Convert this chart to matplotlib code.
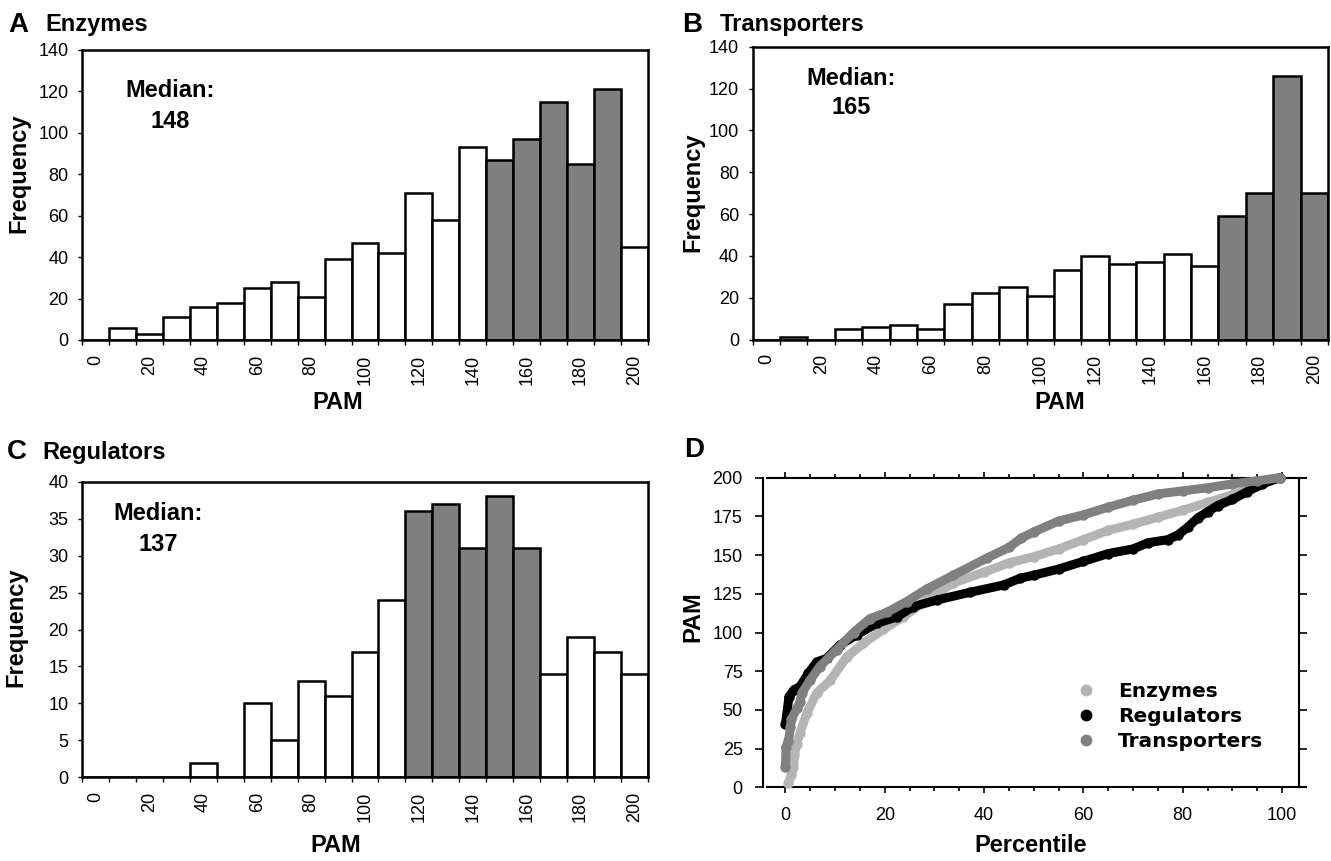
import numpy as np
import matplotlib.pyplot as plt
from matplotlib.lines import Line2D
from matplotlib.ticker import MultipleLocator

plt.rcParams['font.family'] = ['Liberation Sans', 'DejaVu Sans']

W, H = 1331, 861

# histogram data: PAM categories (bin labels) and counts
pam_bins = list(range(0, 201, 10))
enzymes_counts = [0, 6, 3, 11, 16, 18, 25, 28, 21, 39, 47, 42, 71, 58, 93, 87, 97, 115, 85, 121, 45]
transporters_counts = [0, 1, 0, 5, 6, 7, 5, 17, 22, 25, 21, 33, 40, 36, 37, 41, 35, 59, 70, 126, 70]
regulators_counts = [0, 0, 0, 0, 2, 0, 10, 5, 13, 11, 17, 24, 36, 37, 31, 38, 31, 14, 19, 17, 14]
enzymes_band = (150, 190)
transporters_band = (170, 200)
regulators_band = (120, 160)
enzymes_median = 148
transporters_median = 165
regulators_median = 137

# percentile curves (panel D)
enz_pct = [0.6, 1.2, 1.6, 1.8, 2.3, 2.9, 4.3, 6.3, 9, 12.3, 15.7, 19.7, 23.7, 28.4, 33.8, 40,
           45, 50, 55, 60, 65, 70, 75, 80, 85, 90, 95, 99.5]
enz_pam = [3, 8, 13, 21, 28, 35, 48, 61, 69, 84, 93, 102, 110, 121, 132, 139,
           145, 149, 154, 160, 166, 170, 174.5, 179, 184, 189, 194.5, 200]
reg_pct = [0, 0.7, 1.7, 2.9, 4.6, 6.3, 8.3, 11, 14.3, 18.4, 22.4, 25.7, 30.5, 37.2, 43.9, 47.2,
           50, 55, 60, 65, 70, 73, 77, 79, 81, 83, 85, 87, 90, 93, 96, 99.5]
reg_pam = [41, 58.5, 63, 65, 73.6, 81, 83.3, 92, 98.4, 106, 110, 116.7, 121, 126, 130.7, 135,
           137, 141, 146, 151, 154, 158, 160, 163, 168, 174, 178, 182, 186, 191, 196, 200]
tra_pct = [0, 0.1, 0.6, 1, 1.2, 2.3, 2.9, 3.3, 4.9, 6.9, 10.3, 13.7, 17, 20.4, 24.4, 28.4, 33.8,
           40.5, 45, 47.5, 50, 55, 60, 65, 70, 75, 80, 85, 90, 95, 99.5]
tra_pam = [13, 26, 30, 39, 44, 51, 55, 61, 69, 78, 89, 100, 109, 113, 120, 128, 137,
           148, 155, 161, 165, 172, 176, 181, 185.5, 189.5, 191.5, 193.5, 196, 198, 200]

fig = plt.figure(figsize=(W / 100, H / 100), dpi=100)


def px_rect(left, top, right, bottom):
    return [left / W, 1 - bottom / H, (right - left) / W, (bottom - top) / H]


def fig_xy(x, y):
    return x / W, 1 - y / H


def hist_panel(rect, counts, band, ymax, ystep, letter, title, median,
               letter_x, title_x, base_y, med_xy, ylab_xy, xlab_xy):
    ax = fig.add_axes(px_rect(*rect))
    cols = ['#7f7f7f' if band[0] <= b <= band[1] else 'white' for b in pam_bins]
    x = np.arange(len(pam_bins))
    ax.bar(x, counts, width=1, align='edge', color=cols, edgecolor='black', linewidth=1.8)
    ax.set_xlim(0, len(pam_bins))
    ax.set_ylim(0, ymax)
    for s in ax.spines.values():
        s.set_linewidth(1.8)
    ax.set_xticks(np.arange(len(pam_bins) + 1))
    ax.set_xticklabels([])
    ax.set_xticks(x[::2] + 0.5, minor=True)
    ax.set_xticklabels([str(b) for b in pam_bins[::2]], minor=True, rotation=90,
                       va='top', ha='center')
    ax.tick_params(axis='x', which='major', length=3.5, width=1.0, direction='out')
    ax.tick_params(axis='x', which='minor', length=0, pad=10.5, labelsize=13)
    ax.set_yticks(np.arange(0, ymax + 1, ystep))
    ax.tick_params(axis='y', length=3.2, width=1.0, pad=6.5, labelsize=13)
    ax.set_ylabel('Frequency', fontsize=17, fontweight='bold', va='center')
    ax.yaxis.set_label_coords(*fig_xy(*ylab_xy), transform=fig.transFigure)
    ax.set_xlabel('PAM', fontsize=17, fontweight='bold', va='center')
    ax.xaxis.set_label_coords(*fig_xy(*xlab_xy), transform=fig.transFigure)
    ax.text(med_xy[0], med_xy[1], 'Median:', transform=ax.transAxes, ha='center',
            va='center', fontsize=17, fontweight='bold')
    ax.text(med_xy[0], med_xy[2], str(median), transform=ax.transAxes, ha='center',
            va='center', fontsize=17, fontweight='bold')
    fig.text(*fig_xy(letter_x, base_y), letter, fontsize=20, fontweight='bold', va='baseline')
    fig.text(*fig_xy(title_x, base_y), title, fontsize=17, fontweight='bold', va='baseline')
    return ax


hist_panel((82, 50, 648, 340), enzymes_counts, enzymes_band, 140, 20, 'A', 'Enzymes',
           enzymes_median, 8, 45, 31.5, (0.155, 0.862, 0.752), (19, 173), (338, 403))
hist_panel((752.7, 46.7, 1328, 339.5), transporters_counts, transporters_band, 140, 20,
           'B', 'Transporters', transporters_median, 682, 720, 31.5, (0.171, 0.893, 0.791),
           (693, 192), (1060, 403))
hist_panel((82, 481.7, 648, 777.3), regulators_counts, regulators_band, 40, 5, 'C',
           'Regulators', regulators_median, 7, 42, 459.5, (0.134, 0.894, 0.786),
           (16, 627), (336, 845))

# panel D: percentile curves
ax = fig.add_axes(px_rect(763, 477.7, 1298.5, 787.3))
series = [('Enzymes', enz_pct, enz_pam, '#b4b4b4'),
          ('Regulators', reg_pct, reg_pam, 'black'),
          ('Transporters', tra_pct, tra_pam, '#808080')]
for name, p, v, c in series:
    ax.plot(p, v, '-o', color=c, lw=6.5, ms=7.5, mew=0, solid_capstyle='round',
            solid_joinstyle='round', clip_on=False, zorder=3)
ax.set_xlim(-4.53, 103.3)
ax.set_ylim(0, 200)
ax.set_xticks(range(0, 101, 20))
ax.xaxis.set_minor_locator(MultipleLocator(5))
ax.set_yticks(range(0, 201, 25))
for s in ax.spines.values():
    s.set_linewidth(1.5)
ax.spines['top'].set_bounds(-3.7, 104.8)
ax.spines['bottom'].set_bounds(-3.7, 104.8)
ax.tick_params(axis='x', which='major', top=True, length=4.5, width=1.2, pad=10,
               labelsize=13)
ax.tick_params(axis='x', which='minor', top=True, length=2.8, width=1.2)
ax.tick_params(axis='y', right=True, length=6, width=1.2, pad=8.5, labelsize=13)
ax.set_ylabel('PAM', fontsize=17, fontweight='bold', va='center')
ax.yaxis.set_label_coords(*fig_xy(693, 617), transform=fig.transFigure)
ax.set_xlabel('Percentile', fontsize=17, fontweight='bold', va='center')
ax.xaxis.set_label_coords(*fig_xy(1031, 845), transform=fig.transFigure)
fig.text(*fig_xy(684, 457), 'D', fontsize=20, fontweight='bold', va='baseline')

handles = [Line2D([], [], marker='o', ls='none', color=c, ms=8.5, mew=0) for _, _, _, c in series]
ax.legend(handles, [s[0] for s in series], loc='upper left',
          bbox_to_anchor=fig_xy(1066, 672), bbox_transform=fig.transFigure,
          frameon=False, borderpad=0, handlelength=1, handletextpad=1.1,
          labelspacing=0.3, prop={'family': 'DejaVu Sans', 'weight': 'bold', 'size': 14.5})

fig.savefig('out.png', dpi=100)
